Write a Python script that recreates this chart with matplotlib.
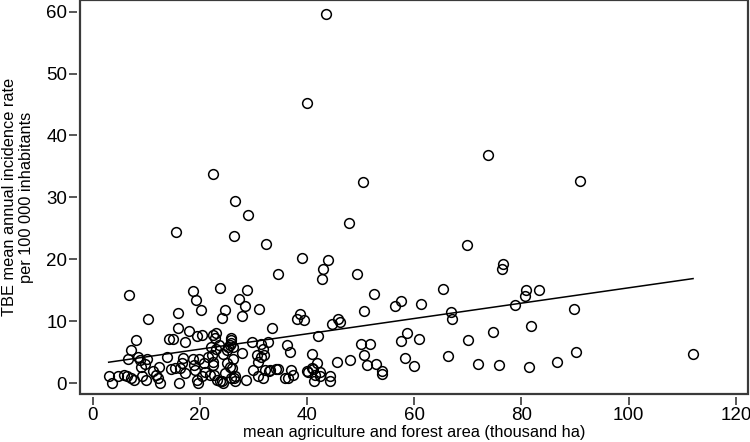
import matplotlib
matplotlib.use("Agg")
import matplotlib.pyplot as plt
from matplotlib.patches import Rectangle

plt.rcParams["font.family"] = ["Liberation Sans", "DejaVu Sans"]

# area (thousand ha) / incidence rate per 100 000
area = [
    43.6, 39.9, 73.8, 90.9, 22.5, 50.5, 26.6, 28.9, 47.8, 26.4, 32.3, 69.8, 15.6,
    6.7, 18.7, 19.3, 20.2, 16.0, 10.4,
    39.1, 44.0, 43.0, 42.8, 34.5, 23.8, 28.8, 27.3, 28.5, 31.0, 24.7, 24.1, 27.9,
    38.6, 38.2, 39.4, 45.8,
    49.4, 52.5, 65.3, 57.5, 56.4, 61.2, 50.7, 46.1, 66.8, 67.0, 50.1, 51.7, 58.6,
    57.6, 60.8, 70.1, 45.6, 48.1, 50.7, 51.2, 52.9, 53.9, 53.9, 58.3, 59.9, 66.3, 71.9,
    42.1, 74.7, 41.0, 41.9, 40.1, 41.2, 42.5, 42.4, 41.3, 44.2, 44.3, 75.8, 81.4,
    86.6, 90.1, 112.0,
    76.6, 76.3, 80.8, 80.7, 83.2, 78.8, 89.8, 81.7, 33.4, 44.6,
    15.9, 17.9, 19.4, 20.4, 8.1, 14.3, 15.0, 17.3, 22.4, 7.2, 22.0, 6.6, 8.4, 8.9,
    10.2, 9.1, 9.7, 13.8, 16.9, 16.6, 12.4, 14.6, 15.4, 16.3, 17.3, 18.8, 19.9, 18.9,
    20.7, 21.6, 21.0, 20.5, 3.0, 3.7, 4.8, 5.9, 6.4, 7.1, 7.8, 9.3, 9.9, 11.8, 12.2,
    12.6, 16.2, 19.4, 19.7, 11.3, 19.1, 22.5, 21.9,
    23.5, 25.0, 25.6, 25.9, 27.8, 26.2, 25.0, 24.7, 26.0, 26.3, 26.6, 29.7, 28.7,
    30.6, 30.9, 30.0, 30.9, 31.5, 31.8, 32.0, 32.8, 32.2, 31.8, 33.1, 34.3, 36.2,
    36.8, 37.1, 36.5, 37.4,
    23.1, 22.8, 25.9, 23.1, 22.2, 24.4, 31.5, 22.5, 25.6, 32.9, 34.6, 35.9, 39.9,
    40.9, 41.5, 23.8, 24.4, 25.9, 26.6, 22.6, 23.2, 24.1, 25.3, 25.8, 26.1,
]
incidence = [
    59.6, 45.3, 36.9, 32.7, 33.8, 32.5, 29.5, 27.1, 25.8, 23.8, 22.5, 22.3, 24.5,
    14.3, 14.9, 13.5, 11.8, 11.4, 10.3,
    20.2, 19.9, 18.4, 16.8, 17.7, 15.4, 15.0, 13.6, 12.5, 12.0, 11.8, 10.5, 10.8,
    11.2, 10.3, 10.2, 10.3,
    17.6, 14.4, 15.2, 13.3, 12.4, 12.8, 11.7, 9.9, 11.5, 10.4, 6.4, 6.4, 8.1,
    6.8, 7.1, 7.0, 3.4, 3.8, 4.5, 3.0, 3.1, 2.0, 1.5, 4.1, 2.8, 4.4, 3.1,
    7.6, 8.2, 4.8, 3.3, 1.9, 2.3, 1.8, 1.1, 0.3, 1.1, 0.3, 2.9, 2.7,
    3.4, 5.1, 4.7,
    19.2, 18.5, 15.0, 14.1, 15.0, 12.7, 12.0, 9.3, 8.9, 9.5,
    8.9, 8.4, 7.7, 7.8, 7.0, 7.1, 7.1, 6.7, 7.8, 5.4, 5.9, 3.9, 4.3, 3.8,
    4.0, 2.7, 3.1, 4.3, 4.1, 3.2, 2.7, 2.3, 2.4, 2.4, 1.6, 4.0, 4.0, 2.9,
    3.2, 4.3, 1.9, 1.1, 1.2, 0.0, 1.2, 1.3, 1.2, 0.9, 0.5, 1.1, 0.5, 1.3, 0.8,
    0.0, 0.0, 0.5, 0.0, 2.0, 2.1, 3.0, 1.3,
    6.2, 5.4, 6.2, 7.0, 4.9, 4.0, 3.2, 1.6, 2.4, 0.8, 0.3, 6.7, 0.5,
    4.6, 3.5, 2.1, 1.1, 6.4, 5.6, 4.6, 6.7, 2.1, 0.8, 2.1, 2.3, 6.2,
    5.1, 2.1, 0.8, 1.3,
    8.1, 7.3, 7.3, 5.6, 4.6, 4.7, 4.3, 3.5, 2.7, 2.0, 2.3, 0.8, 2.0,
    2.4, 1.3, 0.3, 0.0, 0.8, 1.1, 1.3, 0.5, 0.3, 5.8, 6.5, 5.9,
]

# fitted line end points as drawn in the picture
fit_x = [3.0, 112.0]
fit_y = [3.4, 16.9]

x_ticks = [0, 20, 40, 60, 80, 100, 120]
y_ticks = [0, 10, 20, 30, 40, 50, 60]

FRAME_COLOR = "#3a3a3a"

fig = plt.figure(figsize=(7.5, 4.42), dpi=100)
ax = fig.add_axes([0.107, 0.109, 0.890, 0.890])

ax.plot(area, incidence, "o", ms=7, mfc="none", mec="black", mew=1.1, zorder=3)
ax.plot(fit_x, fit_y, color="black", lw=1.1, zorder=2)

ax.set_xlim(-2.3, 122.2)
ax.set_ylim(-1.7, 61.8)
ax.set_xticks(x_ticks)
ax.set_yticks(y_ticks)

# ticks sit slightly away from the frame
for side in ("left", "bottom"):
    ax.spines[side].set_position(("outward", 2))
for spine in ax.spines.values():
    spine.set_visible(False)
ax.add_patch(Rectangle((0, 0), 1, 1, transform=ax.transAxes, fill=False,
                       ec=FRAME_COLOR, lw=1.6, clip_on=False, zorder=5))

ax.tick_params(direction="out", length=6, width=1.2, color=FRAME_COLOR,
               labelsize=13.5, pad=1.5)

ax.set_xlabel("mean agriculture and forest area (thousand ha)", fontsize=11.8, va="top")
ax.xaxis.set_label_coords(0.5, -0.079)
ax.set_ylabel("TBE mean annual incidence rate\nper 100 000 inhabitants", fontsize=11.8)
ax.yaxis.set_label_coords(-0.069, 0.5)

fig.savefig("out.png", dpi=100)
